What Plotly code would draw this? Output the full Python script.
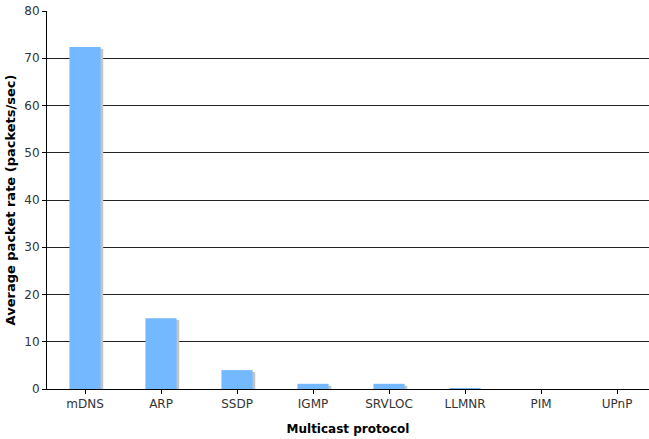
import plotly.graph_objects as go

protocols = ["mDNS", "ARP", "SSDP", "IGMP", "SRVLOC", "LLMNR", "PIM", "UPnP"]
rates = [72.4, 15.0, 4.0, 1.1, 1.1, 0.2, 0.0, 0.0]

BAR = "#74B8FF"
SHADOW = "#C4C4C4"
FONT = "DejaVu Sans, Verdana, sans-serif"

fig = go.Figure()

# drop shadow, Excel style
fig.add_trace(go.Bar(
    x=list(range(len(protocols))),
    y=[max(r - 0.4, 0) for r in rates],
    width=0.41,
    offset=-0.205 + 0.035,
    marker=dict(color=SHADOW, line=dict(width=0)),
    hoverinfo="skip",
))
fig.add_trace(go.Bar(
    x=list(range(len(protocols))),
    y=rates,
    width=0.41,
    offset=-0.205,
    marker=dict(color=BAR, line=dict(width=0)),
))

fig.update_layout(
    width=649, height=439,
    barmode="overlay",
    showlegend=False,
    plot_bgcolor="white",
    paper_bgcolor="white",
    font=dict(family=FONT, size=12, color="#333"),
    margin=dict(l=47, r=0, t=11, b=50, autoexpand=False),
    xaxis=dict(
        tickmode="array",
        tickvals=list(range(len(protocols))),
        ticktext=protocols,
        range=[-0.5, 7.42],
        showgrid=False, zeroline=False,
        showline=True, linecolor="black", linewidth=1,
        ticks="outside", ticklen=4, tickcolor="black",
        tickson="boundaries",
        tickfont=dict(size=12, family=FONT, color="#333"),
        automargin=False,
        title=dict(text="<b>Multicast protocol</b>", standoff=14,
                   font=dict(size=12, family=FONT, color="black")),
    ),
    yaxis=dict(
        range=[0, 80], dtick=10,
        showgrid=True, gridcolor="#222", gridwidth=1,
        zeroline=False,
        showline=True, linecolor="black", linewidth=1,
        ticks="outside", ticklen=4, tickcolor="black",
        tickfont=dict(size=12, family=FONT, color="#333"),
        automargin=False,
        title=dict(text="<b>Average packet rate (packets/sec)</b>", standoff=5,
                   font=dict(size=13, family=FONT, color="black")),
    ),
)

# drop the default 8px body margin so the figure sits at the window origin
fig.write_html("out.html", config={"displayModeBar": False},
               post_script="document.body.style.margin='0';")
